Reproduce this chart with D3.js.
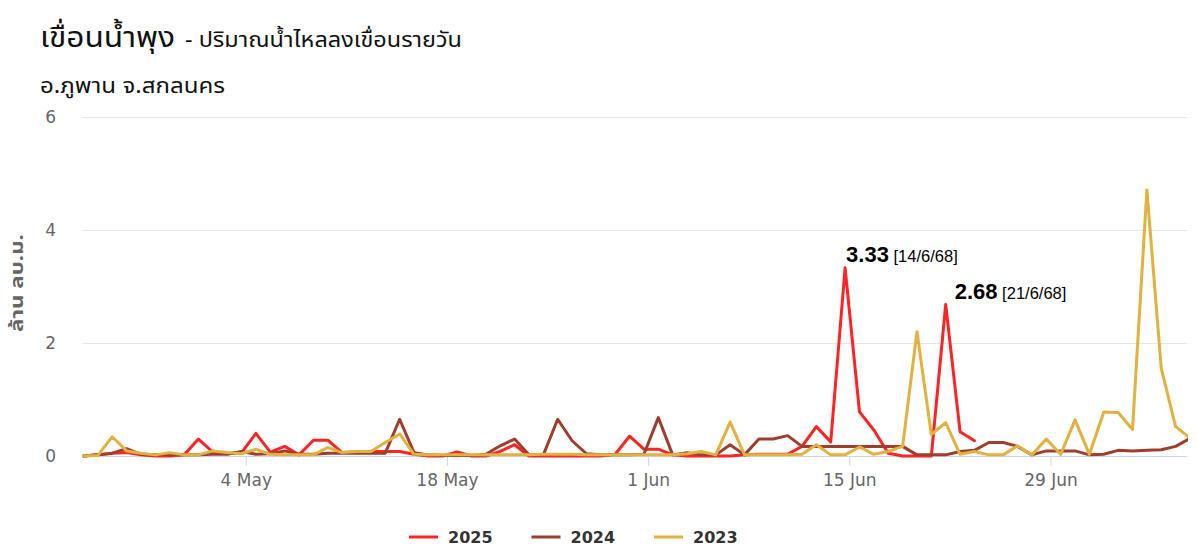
<!DOCTYPE html>
<html><head><meta charset="utf-8">
<script src="https://cdn.jsdelivr.net/npm/d3@7"></script>
<style>
html,body{margin:0;padding:0;background:#fff;}
svg{display:block;}
</style></head>
<body>
<svg id="chart" width="1198" height="557"></svg>
<script>
// ---- data ----
const startDate = new Date(2025, 3, 22, 17, 0); // first daily point (22 Apr)
const endDate = new Date(2025, 6, 8, 17, 0);    // last daily point (8 Jul)
const seriesNames = ["2025", "2024", "2023"];
const seriesColors = ["#ff2424", "#a03e2e", "#e2b13f"];
const v2025 = [0,0.02,0.05,0.06,0.02,0,0,0.02,0.3,0.07,0.04,0.06,0.4,0.07,0.17,0.02,0.28,0.28,0.06,0.07,
  0.08,0.08,0.08,0.03,0,0,0.07,0,0,0.08,0.2,0,0,0,0,0,0,0.03,0.35,0.12,
  0.12,0.02,0,0,0,0,0.02,0.03,0.03,0.03,0.17,0.52,0.25,3.33,0.78,0.46,0.05,0,0,0,
  2.68,0.43,0.27];
const v2024 = [0,0.02,0.05,0.13,0.03,0.02,0.02,0.02,0.02,0.03,0.03,0.08,0.03,0.04,0.09,0.03,0.03,0.05,0.05,0.05,
  0.05,0.05,0.65,0.06,0.02,0.01,0.01,0.01,0.03,0.18,0.3,0.02,0.02,0.65,0.27,0.04,0.02,0.02,0.02,0.03,
  0.68,0.02,0.06,0.02,0.02,0.2,0.02,0.3,0.3,0.36,0.17,0.17,0.17,0.17,0.17,0.17,0.17,0.17,0.02,0.02,
  0.02,0.08,0.1,0.24,0.24,0.17,0.02,0.09,0.09,0.09,0.02,0.03,0.1,0.09,0.1,0.11,0.17,0.31];
const v2023 = [0,0.01,0.34,0.09,0.05,0.02,0.06,0.02,0.02,0.09,0.06,0.04,0.12,0.03,0.02,0.02,0.02,0.15,0.06,0.08,
  0.08,0.24,0.39,0.03,0.02,0.02,0.02,0.02,0.02,0.02,0.02,0.02,0.03,0.03,0.03,0.02,0.02,0.02,0.02,0.02,
  0.02,0.02,0.04,0.08,0.02,0.6,0.02,0.02,0.02,0.02,0.03,0.2,0.02,0.02,0.16,0.03,0.08,0.17,2.2,0.38,
  0.59,0.03,0.08,0.02,0.02,0.18,0.02,0.3,0.03,0.64,0.03,0.78,0.77,0.47,4.71,1.55,0.52,0.32];
const yTicks = [0, 2, 4, 6];
const xTickDates = [new Date(2025,4,4), new Date(2025,4,18), new Date(2025,5,1), new Date(2025,5,15), new Date(2025,5,29)];
const annotations = [
  {series: 0, index: 53, value: "3.33", date: "[14/6/68]"},
  {series: 0, index: 60, value: "2.68", date: "[21/6/68]"}
];
const titleMain = "เขื่อนน้ำพุง";
const titleRest = "- ปริมาณน้ำไหลลงเขื่อนรายวัน";
const subtitle = "อ.ภูพาน จ.สกลนคร";
const yTitle = "ล้าน ลบ.ม.";

// ---- chart ----
const svg = d3.select("#chart");
const L = 83, R = 1187, T = 117, B = 456;
const thaiFont = "'Noto Sans Thai','Noto Sans Thai Looped','Noto Sans',sans-serif";
const axFont = "'DejaVu Sans',sans-serif";

const x = d3.scaleTime().domain([startDate, endDate]).range([83.5, 1190]);
const y = d3.scaleLinear().domain([0, 6]).range([B, T]);

svg.append("defs").append("clipPath").attr("id", "plot")
  .append("rect").attr("x", L - 2).attr("y", 0).attr("width", R - L + 3).attr("height", B + 5);

// titles
svg.append("text").attr("x", 40).attr("y", 47).attr("fill", "#111").style("font-family", thaiFont)
  .style("font-size", "28px").attr("textLength", 135).attr("lengthAdjust", "spacingAndGlyphs").text(titleMain);
svg.append("text").attr("x", 185).attr("y", 47).attr("fill", "#111").style("font-family", thaiFont)
  .style("font-size", "21px").attr("textLength", 277).attr("lengthAdjust", "spacingAndGlyphs").text(titleRest);
svg.append("text").attr("x", 40).attr("y", 93).attr("fill", "#111")
  .style("font-family", thaiFont).style("font-size", "21px")
  .attr("textLength", 185).attr("lengthAdjust", "spacingAndGlyphs").text(subtitle);

// grid + y axis
const yAxis = d3.axisLeft(y).tickValues(yTicks).tickSize(-(R - L)).tickPadding(27).tickFormat(d3.format("d"));
const gy = svg.append("g").attr("transform", `translate(${L},0)`).call(yAxis);
gy.select(".domain").remove();
gy.selectAll(".tick line").attr("stroke", "#e6e6e6").attr("stroke-width", 1);
gy.selectAll(".tick text").attr("fill", "#666").style("font-family", axFont).style("font-size", "17px").attr("dy", "0.35em");

svg.append("text")
  .attr("transform", `translate(23,283) rotate(-90)`)
  .attr("text-anchor", "middle").attr("fill", "#666")
  .style("font-family", thaiFont).style("font-size", "18px").style("font-weight", "bold")
  .attr("textLength", 98).attr("lengthAdjust", "spacingAndGlyphs")
  .text(yTitle);

// x axis
const xAxis = d3.axisBottom(x).tickValues(xTickDates).tickSize(10).tickPadding(8).tickFormat(d3.timeFormat("%-d %b"));
const gx = svg.append("g").attr("transform", `translate(0,${B})`).call(xAxis);
gx.select(".domain").attr("stroke", "#ccd6eb").attr("d", `M${L},0.5H${R}`);
gx.selectAll(".tick line").attr("stroke", "#ccd6eb");
gx.selectAll(".tick text").attr("fill", "#666").style("font-family", axFont).style("font-size", "17px");

// lines
const allSeries = [v2025, v2024, v2023];
const line = d3.line().x((d, i) => x(d3.timeDay.offset(startDate, i))).y(d => y(d));
const gl = svg.append("g").attr("clip-path", "url(#plot)");
allSeries.forEach((vals, s) => {
  gl.append("path").datum(vals).attr("d", line)
    .attr("fill", "none").attr("stroke", seriesColors[s]).attr("stroke-width", 3)
    .attr("stroke-linejoin", "round").attr("stroke-linecap", "round");
});

// annotations
const labelDx = [1, 9];
annotations.forEach((a, k) => {
  const vals = allSeries[a.series];
  const px = x(d3.timeDay.offset(startDate, a.index));
  const py = y(vals[a.index]);
  const t = svg.append("text").attr("x", px + labelDx[k]).attr("y", py - 6).attr("fill", "#000");
  t.append("tspan").text(a.value).style("font-family", "'Liberation Sans',sans-serif").style("font-weight", "bold").style("font-size", "22px");
  t.append("tspan").text(" " + a.date).style("font-family", "'Liberation Sans',sans-serif").style("font-size", "16.5px");
});

// legend
const lg = svg.append("g");
seriesNames.forEach((n, i) => {
  const x0 = 409 + i * 122.5;
  lg.append("line").attr("x1", x0).attr("x2", x0 + 29).attr("y1", 537).attr("y2", 537)
    .attr("stroke", seriesColors[i]).attr("stroke-width", 3);
  lg.append("text").attr("x", x0 + 39).attr("y", 543).attr("fill", "#333")
    .style("font-family", axFont).style("font-size", "16px").style("font-weight", "bold").text(n);
});
</script>
</body></html>
